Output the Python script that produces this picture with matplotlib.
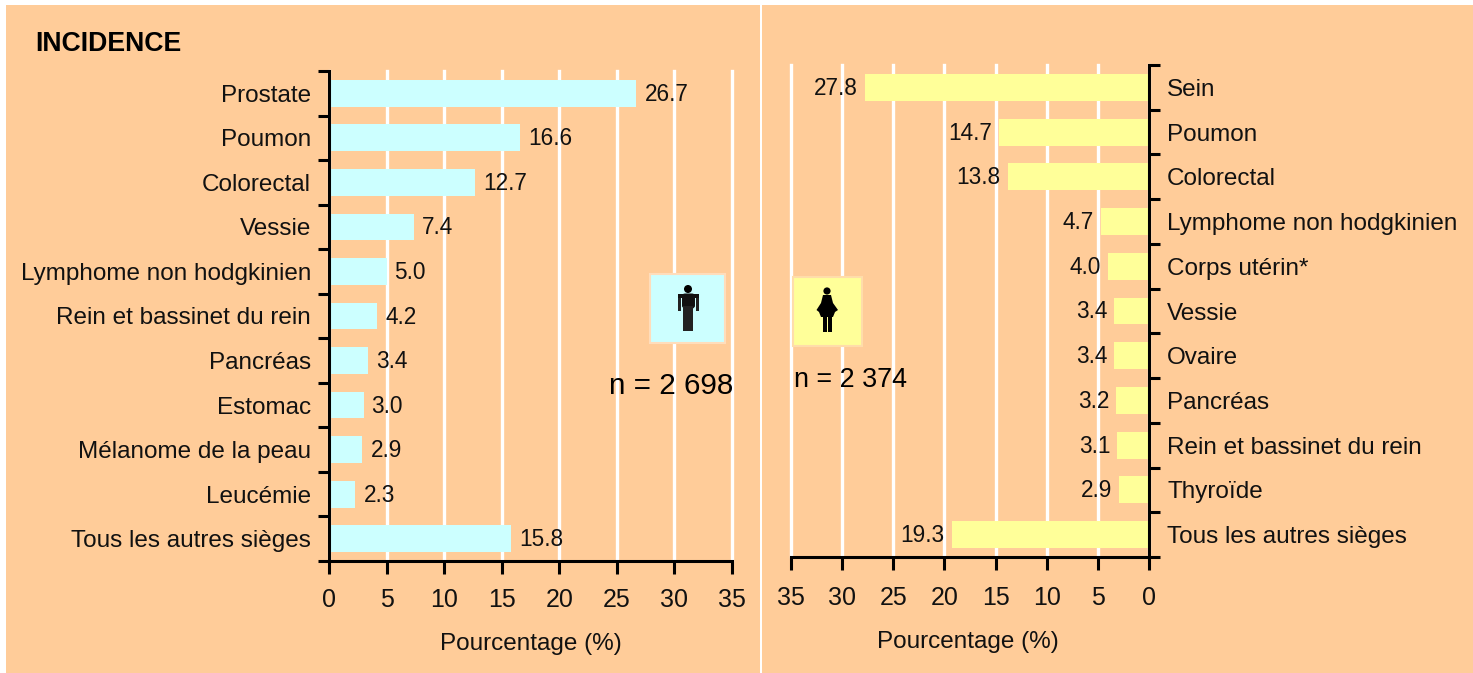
import matplotlib
matplotlib.use("Agg")
import matplotlib.pyplot as plt
from matplotlib.patches import Rectangle, Circle, Polygon, FancyBboxPatch

W, H = 1473, 673
PEACH = "#FFCC99"
CYAN = "#CCFFFF"
YELLOW = "#FFFF99"

men_labels = ["Prostate", "Poumon", "Colorectal", "Vessie", "Lymphome non hodgkinien",
              "Rein et bassinet du rein", "Pancréas", "Estomac", "Mélanome de la peau",
              "Leucémie", "Tous les autres sièges"]
men_values = [26.7, 16.6, 12.7, 7.4, 5.0, 4.2, 3.4, 3.0, 2.9, 2.3, 15.8]

women_labels = ["Sein", "Poumon", "Colorectal", "Lymphome non hodgkinien", "Corps utérin*",
                "Vessie", "Ovaire", "Pancréas", "Rein et bassinet du rein", "Thyroïde",
                "Tous les autres sièges"]
women_values = [27.8, 14.7, 13.8, 4.7, 4.0, 3.4, 3.4, 3.2, 3.1, 2.9, 19.3]

xticks = [0, 5, 10, 15, 20, 25, 30, 35]
xlabel = "Pourcentage (%)"
title = "INCIDENCE"
men_n = "n = 2 698"
women_n = "n = 2 374"

plt.rcParams["font.family"] = ["Liberation Sans", "DejaVu Sans"]
fig = plt.figure(figsize=(W / 100, H / 100), dpi=100, facecolor="white")

bg = fig.add_axes([0, 0, 1, 1])
bg.set_xlim(0, W)
bg.set_ylim(H, 0)
bg.axis("off")
bg.add_patch(Rectangle((6, 5), W - 6, H - 5, fc=PEACH, ec="none"))
bg.add_patch(Rectangle((760, 5), 2, H - 5, fc="white", ec="none"))


def box(l, r, t, b):
    return [l / W, 1 - b / H, (r - l) / W, (b - t) / H]


def panel(rect, labels, values, color, side, tick_pad, label_pad, label_x):
    ax = fig.add_axes(rect, facecolor="none")
    y = list(range(len(labels)))
    ax.set_ylim(len(labels) - 0.5, -0.5)
    ax.set_xticks(xticks)
    ax.grid(axis="x", color="white", lw=2.4, zorder=1, clip_on=False)
    ax.set_axisbelow(True)
    ax.barh(y, values, height=0.6, color=color, zorder=2)
    if side == "left":
        ax.set_xlim(0, 35)
        ax.spines["right"].set_visible(False)
    else:
        ax.set_xlim(35, 0)
        ax.spines["left"].set_visible(False)
        ax.spines["right"].set_visible(True)
    ax.spines["top"].set_visible(False)
    for s in ax.spines.values():
        s.set_linewidth(2.2)
        s.set_color("black")
    edges = [i - 0.5 for i in range(len(labels) + 1)]
    ax.set_yticks(edges)
    ax.set_yticklabels([])
    ax.set_yticks(y, minor=True)
    ax.set_yticklabels(labels, minor=True, fontsize=17.5, color="#111111")
    ax.tick_params(axis="y", which="minor", length=0, pad=13,
                   left=side == "left", labelleft=side == "left",
                   right=side != "left", labelright=side != "left")
    ax.tick_params(axis="y", which="major", length=8, width=2.2,
                   left=side == "left", right=side != "left",
                   labelleft=False, labelright=False)
    ax.tick_params(axis="x", length=9, width=2.2, labelsize=18, pad=tick_pad, labelcolor="#111111")
    ax.set_xlabel(xlabel, fontsize=17.5, labelpad=label_pad, color="#111111", x=label_x)
    for yi, v in zip(y, values):
        ha = "left" if side == "left" else "right"
        off = 8 if side == "left" else -7
        ax.annotate(f"{v:.1f}", (v, yi), xytext=(off, -1), textcoords="offset pixels",
                    ha=ha, va="center", fontsize=16.3, color="#111111", zorder=4)
    return ax


panel(box(329, 732, 71, 561), men_labels, men_values, CYAN, "left", 10.2, 15.3, 0.5)
panel(box(791, 1149, 65, 557), women_labels, women_values, YELLOW, "right", 12.2, 14.8, 0.493)

fg = fig.add_axes([0, 0, 1, 1], facecolor="none")
fg.set_xlim(0, W)
fg.set_ylim(H, 0)
fg.axis("off")
fg.text(35, 44, title, fontsize=19.2, fontweight="bold", va="center", ha="left", color="black")
fg.text(609, 386, men_n, fontsize=21.3, va="center", ha="left", color="black")
fg.text(794, 380, women_n, fontsize=19.4, va="center", ha="left", color="black")

# icon: man
fg.add_patch(Rectangle((650, 274), 75, 69, fc=CYAN, ec="#FFDDBB", lw=1.5, zorder=5))
fg.add_patch(Circle((688, 289), 4, fc="black", ec="none", zorder=6))
fg.add_patch(FancyBboxPatch((682, 293.5), 13, 15, boxstyle="round,pad=0,rounding_size=3",
                            fc="#111111", ec="none", zorder=6))
fg.add_patch(Rectangle((678, 296), 3, 15, fc="#222222", ec="none", zorder=6))
fg.add_patch(Rectangle((696, 296), 3, 15, fc="#222222", ec="none", zorder=6))
fg.add_patch(Rectangle((678, 294), 21, 3.5, fc="#111111", ec="none", zorder=6))
fg.add_patch(Rectangle((683, 306), 10, 25, fc="#222222", ec="none", zorder=6))
fg.add_patch(Rectangle((687.6, 314), 0.8, 17, fc="#556666", ec="none", zorder=7))

# icon: woman
fg.add_patch(Rectangle((793, 277), 69, 69, fc=YELLOW, ec="#FFDDAA", lw=1.5, zorder=5))
fg.add_patch(Circle((827, 291), 3.6, fc="black", ec="none", zorder=6))
fg.add_patch(Polygon([(823, 295), (831, 295), (833, 303), (838, 310), (835, 312), (833, 317),
                      (821, 317), (819, 312), (816.5, 310), (821, 303)],
                     fc="black", ec="none", zorder=6))
fg.add_patch(Rectangle((822.5, 316), 4, 16, fc="black", ec="none", zorder=6))
fg.add_patch(Rectangle((828, 316), 4, 16, fc="black", ec="none", zorder=6))

fig.savefig("out.png", dpi=100, facecolor="white")
